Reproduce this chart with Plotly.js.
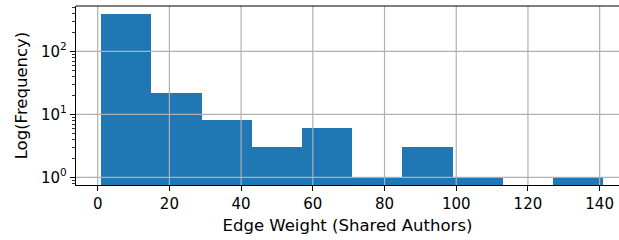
<!DOCTYPE html>
<html>
<head>
<meta charset="utf-8">
<script src="https://cdn.plot.ly/plotly-3.0.1.min.js"></script>
<style>html,body{margin:0;padding:0;background:#fff;}#chart{width:619px;height:240px;}</style>
</head>
<body>
<div id="chart"></div>
<script>
// Histogram bins (left edges), bin width and counts
const binStarts = [1, 15, 29, 43, 57, 71, 85, 99, 113, 127];
const binWidth = 14;
const counts = [390, 22, 8, 3, 6, 1, 3, 1, null, 1];
const xTickVals = [0, 20, 40, 60, 80, 100, 120, 140];
const yTickVals = [1, 10, 100];
const yTickText = ['10<sup>0</sup>', '10<sup>1</sup>', '10<sup>2</sup>'];

// minor log ticks (2..9 in each decade)
const minorVals = [];
[0.1, 1, 10, 100].forEach(d => { for (let k = 2; k <= 9; k++) minorVals.push(k * d); });

const gridColor = '#b0b0b0';
const shapes = [];
xTickVals.forEach(v => shapes.push({type:'line', xref:'x', yref:'paper', x0:v, x1:v, y0:0, y1:1,
  line:{color:gridColor, width:1.2}, layer:'above'}));
yTickVals.forEach(v => shapes.push({type:'line', xref:'paper', yref:'y', x0:0, x1:1, y0:v, y1:v,
  line:{color:gridColor, width:1.2}, layer:'above'}));
// top spine
shapes.push({type:'line', xref:'paper', yref:'paper', x0:0, x1:1, y0:1, y1:1, line:{color:'black', width:1.2}, layer:'above'});

const trace = {
  type:'bar', x: binStarts, y: counts, width: binWidth, offset: 0,
  marker:{color:'#1f77b4', line:{width:0}}, hoverinfo:'x+y'
};

const fam = 'DejaVu Sans, sans-serif';
const tickFont = {family:fam, size:15, color:'black'};
const titleFont = {family:fam, size:16.5, color:'black'};
const layout = {
  width:619, height:240,
  margin:{l:76, r:0, t:6, b:55},
  paper_bgcolor:'white', plot_bgcolor:'white',
  font: tickFont,
  showlegend:false,
  bargap:0,
  shapes: shapes,
  xaxis:{
    range:[-6.05, 145.4], tickvals:xTickVals, showgrid:false, zeroline:false,
    ticks:'outside', ticklen:5, tickwidth:1, tickcolor:'black',
    showline:true, linecolor:'black', linewidth:1.2,
    tickfont:tickFont,
    title:{text:'Edge Weight (Shared Authors)', font:titleFont, standoff:7},
    layer:'above traces'
  },
  yaxis:{
    type:'log', range:[-0.122, 2.719], tickvals:yTickVals, ticktext:yTickText,
    showgrid:false, zeroline:false,
    ticks:'outside', ticklen:5, tickwidth:1, tickcolor:'black',
    minor:{tickmode:'array', tickvals:minorVals, ticks:'outside', ticklen:3, tickwidth:0.8, tickcolor:'black', showgrid:false},
    showline:true, linecolor:'black', linewidth:1.2,
    tickfont:tickFont,
    title:{text:'Log(Frequency)', font:titleFont, standoff:9},
    layer:'above traces'
  }
};
Plotly.newPlot('chart', [trace], layout, {displayModeBar:false, staticPlot:true});
</script>
</body>
</html>
